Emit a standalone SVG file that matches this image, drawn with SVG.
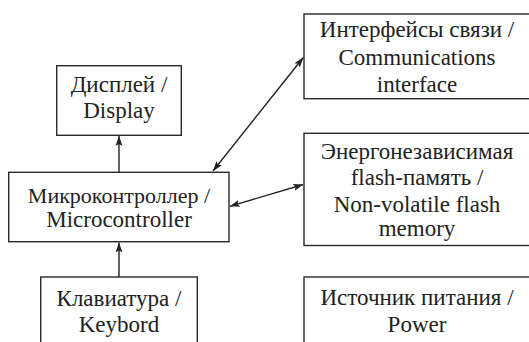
<svg xmlns="http://www.w3.org/2000/svg" width="529" height="342" viewBox="0 0 529 342">
  <style>
    .box { fill: #ffffff; stroke: #2a2a2a; stroke-width: 1.4; }
    .lbl { font-family: "Liberation Serif", "Times New Roman", serif; font-size: 23px; fill: #222222; text-anchor: middle; }
    .link { stroke: #222222; stroke-width: 1.4; fill: none; }
  </style>
  <defs>
    <marker id="head" viewBox="0 0 10 10" refX="10" refY="5" markerWidth="10" markerHeight="10" markerUnits="userSpaceOnUse" orient="auto-start-reverse">
      <path d="M0,1.5 L10,5 L0,8.5 L2,5 Z" fill="#222222"/>
    </marker>
  </defs>
  <rect width="529" height="342" fill="#ffffff"/>

  <g id="display">
    <rect class="box" x="56.7" y="65.7" width="124.6" height="69.6"/>
    <text class="lbl" x="119" y="91.7">Дисплей /</text>
    <text class="lbl" x="119" y="118">Display</text>
  </g>

  <g id="microcontroller">
    <rect class="box" x="8.7" y="172.3" width="220.3" height="69.4"/>
    <text class="lbl" x="119" y="202.7" style="font-size:22px">Микроконтроллер /</text>
    <text class="lbl" x="119" y="227">Microcontroller</text>
  </g>

  <g id="keyboard">
    <rect class="box" x="40.7" y="277" width="156.6" height="80"/>
    <text class="lbl" x="119" y="305.5">Клавиатура /</text>
    <text class="lbl" x="119" y="332">Keybord</text>
  </g>

  <g id="communications">
    <rect class="box" x="304" y="14" width="240" height="84.7"/>
    <text class="lbl" x="417" y="36.5">Интерфейсы связи /</text>
    <text class="lbl" x="417" y="65">Communications</text>
    <text class="lbl" x="417" y="92">interface</text>
  </g>

  <g id="flash">
    <rect class="box" x="304" y="133.3" width="240" height="112.2"/>
    <text class="lbl" x="417" y="158.5">Энергонезависимая</text>
    <text class="lbl" x="417" y="185">flash-память /</text>
    <text class="lbl" x="417" y="211.7">Non-volatile flash</text>
    <text class="lbl" x="417" y="236">memory</text>
  </g>

  <g id="power">
    <rect class="box" x="304" y="277" width="240" height="80"/>
    <text class="lbl" x="417" y="305">Источник питания /</text>
    <text class="lbl" x="417" y="331.5">Power</text>
  </g>

  <g id="connectors">
    <line class="link" x1="119" y1="172.3" x2="119" y2="136" marker-end="url(#head)"/>
    <line class="link" x1="119" y1="277" x2="119" y2="242.4" marker-end="url(#head)"/>
    <line class="link" x1="213" y1="171" x2="303.3" y2="57.5" marker-start="url(#head)" marker-end="url(#head)"/>
    <line class="link" x1="229.8" y1="206.3" x2="303.3" y2="184.5" marker-start="url(#head)" marker-end="url(#head)"/>
  </g>
</svg>
